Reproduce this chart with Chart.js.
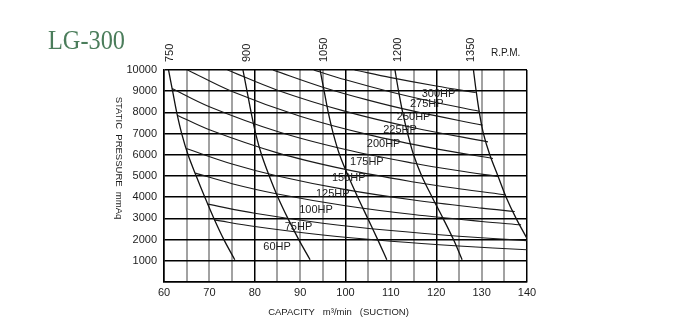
<!DOCTYPE html>
<html>
<head>
<meta charset="utf-8">
<title>LG-300</title>
<script src="https://cdn.jsdelivr.net/npm/chart.js@4.4.1/dist/chart.umd.min.js"></script>
<style>
  html, body { margin: 0; padding: 0; background: #fff; }
  #wrap { width: 700px; height: 324px; }
</style>
</head>
<body>
<div id="wrap"><canvas id="fanChart" width="700" height="324"></canvas></div>
<script>
// fan speed curves, [capacity m3/min, static pressure mmAq]
const rpmNames = ['750', '900', '1050', '1200', '1350'];
const rpm750  = [[61.0,10000],[61.9,9000],[62.8,8000],[63.9,7000],[65.3,6000],[67.1,5000],[69.0,4000],[71.0,3000],[73.2,2000],[75.6,1050]];
const rpm900  = [[77.4,10000],[78.3,9000],[79.2,8000],[80.2,7000],[81.5,6000],[83.2,5000],[85.1,4000],[87.3,3000],[89.7,2000],[92.2,1050]];
const rpm1050 = [[94.4,10000],[95.3,9000],[96.2,8000],[97.3,7000],[98.7,6000],[100.6,5000],[102.7,4000],[104.9,3000],[107.1,2000],[109.1,1050]];
const rpm1200 = [[110.9,10000],[111.7,9000],[112.6,8000],[113.7,7000],[115.0,6000],[116.8,5000],[119.1,4000],[121.5,3000],[123.8,2000],[125.7,1050]];
const rpm1350 = [[128.2,10000],[128.8,9000],[129.5,8000],[130.4,7000],[131.8,6000],[133.6,5000],[135.4,4000],[137.6,3000],[140.0,2050]];
const rpmCurves = [rpm750, rpm900, rpm1050, rpm1200, rpm1350];

// motor power curves
const hpNames = ['60HP', '75HP', '100HP', '125HP', '150HP', '175HP', '200HP', '225HP', '250HP', '275HP', '300HP'];
const hp60  = [[71.1,2930],[80,2617],[95,2216],[110,1922],[125,1697],[140,1518]];
const hp75  = [[69.6,3673],[80,3241],[95,2773],[110,2427],[125,2161],[140,1950]];
const hp100 = [[66.9,5135],[75,4637],[85,4153],[100,3599],[115,3182],[130,2856],[138.7,2697]];
const hp125 = [[64.9,6295],[75,5565],[85,5002],[100,4356],[115,3866],[130,3483],[137.3,3324]];
const hp150 = [[62.9,7870],[70,7180],[85,6092],[100,5311],[115,4718],[125,4398],[135.2,4115]];
const hp175 = [[61.8,9124],[70,8269],[85,7100],[100,6249],[115,5600],[125,5244],[133.7,4975]];
const hp200 = [[65.2,10000],[75,8987],[90,7820],[105,6953],[120,6280],[132.5,5823]];
const hp225 = [[74,10000],[85,9049],[100,8049],[115,7277],[131.4,6610]];
const hp250 = [[84,10000],[95,9189],[105,8579],[115,8059],[130.2,7400]];
const hp275 = [[93,10000],[100,9536],[110,8960],[120,8465],[129.4,8058]];
const hp300 = [[102,10000],[110,9641],[120,9243],[128.7,8935]];
const hpCurves = [hp60, hp75, hp100, hp125, hp150, hp175, hp200, hp225, hp250, hp275, hp300];

const toXY = pts => pts.map(([x, y]) => ({ x, y }));

const datasets = [];
rpmCurves.forEach((pts, i) => datasets.push({
  label: rpmNames[i] + ' R.P.M.',
  data: toXY(pts),
  borderColor: '#111',
  borderWidth: 1.3
}));
hpCurves.forEach((pts, i) => datasets.push({
  label: hpNames[i],
  data: toXY(pts),
  borderColor: '#1a1a1a',
  borderWidth: 1.1
}));

// where the power labels and speed labels sit (data units)
const hpLabelAt = [[81.9,1660],[86.6,2603],[89.8,3418],[93.5,4173],[97,4899],[101,5667],[104.7,6507],[108.3,7176],[111.3,7789],[114.2,8416],[116.8,8888]];
const rpmLabelAt = [61.3, 78.2, 95.3, 111.5, 127.7];

const SANS = '"Liberation Sans", Arial, sans-serif';

const chartText = {
  id: 'chartText',
  afterDatasetsDraw(chart) {
    const { ctx, chartArea: area, scales: { x, y } } = chart;
    ctx.save();
    ctx.fillStyle = '#1c1c1c';

    // HP labels
    ctx.font = '11px ' + SANS;
    ctx.textAlign = 'left';
    ctx.textBaseline = 'middle';
    hpNames.forEach((t, i) => {
      ctx.fillText(t, x.getPixelForValue(hpLabelAt[i][0]), y.getPixelForValue(hpLabelAt[i][1]));
    });

    // rpm numbers above the plot, turned on their side
    rpmNames.forEach((t, i) => {
      ctx.save();
      ctx.translate(x.getPixelForValue(rpmLabelAt[i]), area.top - 8);
      ctx.rotate(-Math.PI / 2);
      ctx.fillText(t, 0, 0);
      ctx.restore();
    });
    ctx.font = '10px ' + SANS;
    ctx.fillText('R.P.M.', area.right - 36, area.top - 17);

    // axis titles
    ctx.font = '9.5px ' + SANS;
    ctx.textAlign = 'center';
    ctx.fillText('CAPACITY   m\u00b3/min   (SUCTION)', (area.left + area.right) / 2 - 7, area.bottom + 30);
    ctx.save();
    ctx.translate(119, area.top + 88);
    ctx.rotate(Math.PI / 2);
    ctx.fillText('STATIC  PRESSURE  mmAq', 0, 0);
    ctx.restore();

    // model name
    ctx.save();
    ctx.fillStyle = '#4b7d5b';
    ctx.font = '27px "Liberation Serif", "DejaVu Serif", serif';
    ctx.textAlign = 'left';
    ctx.textBaseline = 'alphabetic';
    ctx.translate(48, 49);
    ctx.scale(0.9, 1);
    ctx.fillText('LG-300', 0, 0);
    ctx.restore();

    ctx.restore();
  }
};

new Chart(document.getElementById('fanChart'), {
  type: 'scatter',
  data: { datasets },
  options: {
    responsive: false,
    animation: false,
    devicePixelRatio: 1,
    layout: { padding: { top: 70, right: 173, left: 0, bottom: 0 } },
    elements: {
      point: { radius: 0, hoverRadius: 0 },
      line: { fill: false, tension: 0.35 }
    },
    datasets: { scatter: { showLine: true } },
    plugins: {
      legend: { display: false },
      tooltip: { enabled: false }
    },
    scales: {
      x: {
        type: 'linear',
        min: 60,
        max: 140,
        afterFit(scale) { scale.height = 42; },
        border: { color: '#000', width: 1.5 },
        grid: {
          drawTicks: false,
          color: c => (c.tick && c.tick.value % 20 === 0) ? '#000' : '#a2a2a2',
          lineWidth: c => (c.tick && c.tick.value % 20 === 0) ? 1.5 : 2
        },
        ticks: {
          stepSize: 5,
          autoSkip: false,
          maxRotation: 0,
          padding: 4,
          color: '#1c1c1c',
          font: { family: SANS, size: 11 },
          callback: v => (v % 10 === 0 ? v : '')
        }
      },
      y: {
        type: 'linear',
        min: 0,
        max: 10000,
        afterFit(scale) { scale.width = 164; },
        border: { color: '#000', width: 1.5 },
        grid: {
          drawTicks: false,
          color: '#000',
          lineWidth: 1.5
        },
        ticks: {
          stepSize: 1000,
          padding: 7,
          color: '#1c1c1c',
          font: { family: SANS, size: 11 },
          callback: v => (v === 0 ? '' : v)
        }
      }
    }
  },
  plugins: [chartText]
});
</script>
</body>
</html>
